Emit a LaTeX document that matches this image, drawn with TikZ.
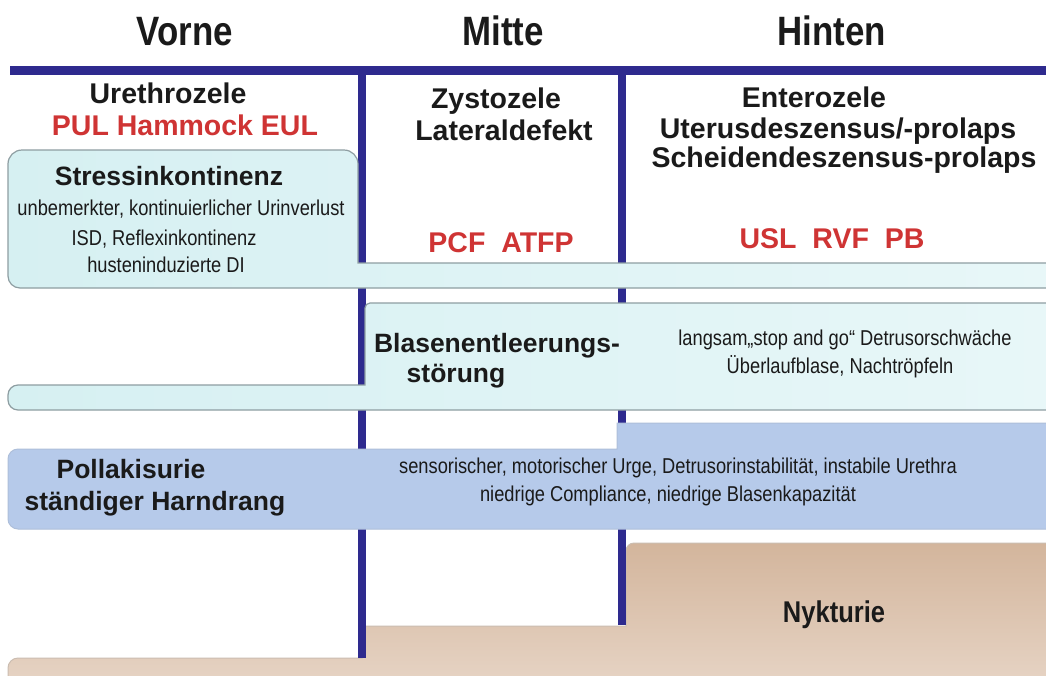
\documentclass[tikz,border=0pt]{standalone}
\usepackage{fontspec}
\setmainfont{Liberation Sans}
\newfontfamily\narrowsf{Liberation Sans}[FakeStretch=0.85]
\usetikzlibrary{positioning}

\definecolor{barblue}{HTML}{2E2A8E}
\definecolor{softcyan}{HTML}{D6F0F2}
\definecolor{palecyan}{HTML}{E8F7F8}
\definecolor{steelbox}{HTML}{B6CAEA}
\definecolor{tanA}{HTML}{D3B59C}
\definecolor{tanB}{HTML}{E7D5C6}
\definecolor{edgegray}{HTML}{8E9EA2}
\definecolor{labelred}{HTML}{CF3434}
\definecolor{inkblack}{HTML}{1A1A1A}

\begin{document}
\begin{tikzpicture}[x=1pt, y=-1pt, inner sep=0pt,
  head/.style={anchor=base, text=inkblack, font=\narrowsf\bfseries\fontsize{41}{41}\selectfont},
  title/.style={anchor=base, text=inkblack, font=\bfseries\fontsize{28.5}{31}\selectfont},
  key/.style={anchor=base, text=inkblack, font=\bfseries\fontsize{26.5}{30}\selectfont},
  redtext/.style={anchor=base, text=labelred, font=\bfseries\fontsize{28.5}{31}\selectfont},
  note/.style={anchor=base, text=inkblack, font=\narrowsf\fontsize{21.5}{26}\selectfont},
  divider/.style={barblue, line width=8pt},
  panel/.style={draw=edgegray, line width=1.2pt}]

\useasboundingbox[fill=white] (0,0) rectangle (1046,675);

% Nykturie steps
\draw[draw=tanA!80!black!60, line width=1pt, top color=tanA, bottom color=tanB]
  (8,690) [rounded corners=10pt] -- (8,658) [sharp corners] -- (362,658) -- (362,626)
  -- (626,626) [rounded corners=8pt] -- (626,543) [sharp corners] -- (1052,543) -- (1052,690) -- cycle;

% columns
\draw[divider] (361.5,66) -- (361.5,658);
\draw[divider] (622,66) -- (622,625);

% Stressinkontinenz
\draw[panel, left color=softcyan, right color=palecyan]
  (8,220) [rounded corners=14pt] -- (8,150) -- (358,150) [sharp corners] -- (358,263)
  -- (1052,263) -- (1052,288) [rounded corners=12pt] -- (8,288) -- (8,220);

% Blasenentleerungsstoerung
\draw[panel, left color=softcyan, right color=palecyan]
  (365,340) [rounded corners=5pt] -- (365,303) [sharp corners] -- (1052,303) -- (1052,410)
  [rounded corners=10pt] -- (8,410) -- (8,385) [sharp corners] -- (365,385) -- (365,340);

% Pollakisurie
\draw[draw=steelbox!85!gray, line width=1pt, fill=steelbox]
  (8,490) [rounded corners=10pt] -- (8,449) [sharp corners] -- (617,449) -- (617,423)
  -- (1052,423) -- (1052,529) [rounded corners=10pt] -- (8,529) -- (8,490);

% header bar
\draw[divider, line width=9pt] (10,70.5) -- (1052,70.5);

% column titles
\node[head] (vorne) at (185,45) {Vorne};
\node[head] (mitte) at (503,45) {Mitte};
\node[head] (hinten) at (832,45) {Hinten};

% Vorne
\node[title] (urethro) at (168,103) {Urethrozele};
\node[redtext] (pul) at (185,135) {PUL Hammock EUL};
\node[key] (stress) at (169,185) {Stressinkontinenz};
\node[note] (loss) at (181,215) {unbemerkter, kontinuierlicher Urinverlust};
\node[note] (isd) at (164,245) {ISD, Reflexinkontinenz};
\node[note] (husten) at (166,272) {husteninduzierte DI};

% Mitte
\node[title] (zysto) at (496,108) {Zystozele};
\node[title] (lateral) at (504,140) {Lateraldefekt};
\node[redtext] (pcf) at (501,252) {PCF\ \ ATFP};

% Hinten
\node[title] (entero) at (814,107) {Enterozele};
\node[title] (uterus) at (838,138) {Uterusdeszensus/-prolaps};
\node[title] (scheide) at (844,167) {Scheidendeszensus-prolaps};
\node[redtext] (usl) at (832,248) {USL\ \ RVF\ \ PB};

% Blase
\node[key] (blase) at (497,352) {Blasenentleerungs-};
\node[key] (stoerung) at (456,382) {störung};
\node[note] (langsam) at (845,345) {langsam„stop and go“ Detrusorschwäche};
\node[note] (ueberlauf) at (840,373) {Überlaufblase, Nachtröpfeln};

% Pollakisurie
\node[key] (polla) at (131,478) {Pollakisurie};
\node[key] (harndrang) at (155,510) {ständiger Harndrang};
\node[note] (urge) at (678,473) {sensorischer, motorischer Urge, Detrusorinstabilität, instabile Urethra};
\node[note] (compliance) at (668,501) {niedrige Compliance, niedrige Blasenkapazität};

% Nykturie
\node[head, font=\narrowsf\bfseries\fontsize{30}{30}\selectfont] (nykt) at (834,622) {Nykturie};

\end{tikzpicture}
\end{document}
